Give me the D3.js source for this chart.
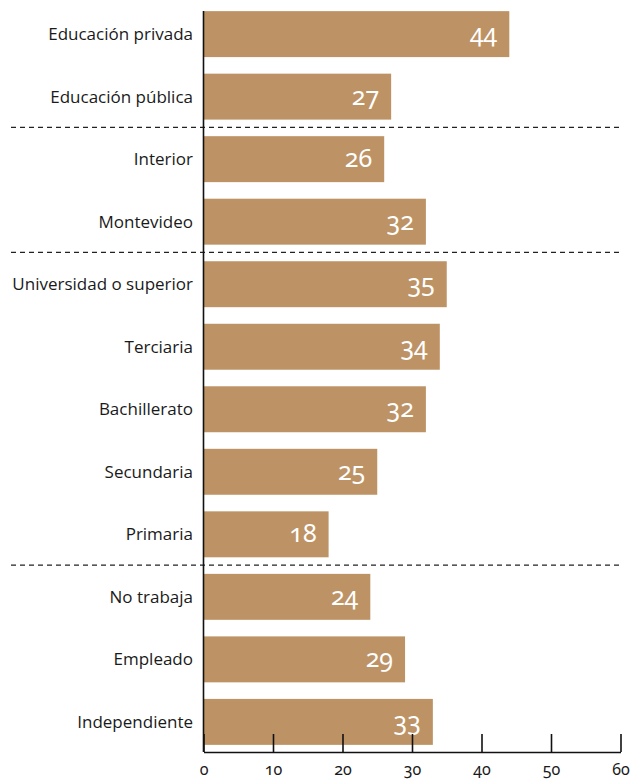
<!DOCTYPE html>
<html>
<head>
<meta charset="utf-8">
<script src="https://cdn.jsdelivr.net/npm/d3@7"></script>
<style>
  html, body { margin: 0; padding: 0; background: #fff; }
  svg { display: block; }
  .cat { font-family: "Open Sans", "Noto Sans", sans-serif; font-size: 17px; fill: #1a1a1a; }
  .val { font-family: "Noto Sans", "Open Sans", sans-serif; font-size: 25px; font-weight: 400; fill: #fff; font-feature-settings: "onum" 1; }
  .tick-label { font-family: "Noto Sans", "Open Sans", sans-serif; font-size: 16px; fill: #1a1a1a; font-feature-settings: "onum" 1; }
</style>
</head>
<body>
<svg id="chart" width="633" height="782"></svg>
<script>
// Share of respondents by group (%)
const categories = [
  "Educación privada", "Educación pública",
  "Interior", "Montevideo",
  "Universidad o superior", "Terciaria", "Bachillerato", "Secundaria", "Primaria",
  "No trabaja", "Empleado", "Independiente"
];
const values = [44, 27, 26, 32, 35, 34, 32, 25, 18, 24, 29, 33];
// Group separators are drawn after these category indices
const groupBreaks = [1, 3, 8];
const tickValues = [0, 10, 20, 30, 40, 50, 60];

const svg = d3.select("#chart");
const barColor = "#bd9366";

const x = d3.scaleLinear().domain([0, 60]).range([203.5, 620.5]);
const y = d3.scaleBand()
  .domain(categories)
  .range([3, 753])
  .paddingInner(0.265)
  .paddingOuter(0.13);

// Bars
svg.append("g").selectAll("rect")
  .data(values)
  .join("rect")
  .attr("x", x(0))
  .attr("y", (d, i) => y(categories[i]))
  .attr("width", d => x(d) - x(0))
  .attr("height", y.bandwidth())
  .attr("fill", barColor);

// Value labels inside bars
svg.append("g").selectAll("text")
  .data(values)
  .join("text")
  .attr("class", "val")
  .attr("x", d => x(d) - 12)
  .attr("y", (d, i) => y(categories[i]) + y.bandwidth() / 2 + 8)
  .attr("text-anchor", "end")
  .text(d => d);

// Category labels
svg.append("g").selectAll("text")
  .data(categories)
  .join("text")
  .attr("class", "cat")
  .attr("x", 193)
  .attr("y", d => y(d) + y.bandwidth() / 2 + 6)
  .attr("text-anchor", "end")
  .text(d => d);

// Dashed separators between groups
svg.append("g").selectAll("line")
  .data(groupBreaks)
  .join("line")
  .attr("x1", 11)
  .attr("x2", 622)
  .attr("y1", i => (y(categories[i]) + y.bandwidth() + y(categories[i + 1])) / 2 - 0.5)
  .attr("y2", i => (y(categories[i]) + y.bandwidth() + y(categories[i + 1])) / 2 - 0.5)
  .attr("stroke", "#222")
  .attr("stroke-width", 1.3)
  .attr("stroke-dasharray", "5,4");

// Vertical baseline
svg.append("line")
  .attr("x1", x(0)).attr("x2", x(0))
  .attr("y1", 11).attr("y2", 752)
  .attr("stroke", "#111")
  .attr("stroke-width", 1.6);

// Bottom axis: ticks point upward, labels below
const axis = d3.axisBottom(x)
  .tickValues(tickValues)
  .tickSize(-18)
  .tickSizeOuter(0)
  .tickPadding(12);

const gx = svg.append("g")
  .attr("transform", "translate(0,752)")
  .call(axis);
gx.select(".domain").attr("stroke", "#111").attr("stroke-width", 1.6);
gx.selectAll(".tick line").attr("stroke", "#111").attr("stroke-width", 1.6);
gx.selectAll(".tick text")
  .attr("class", "tick-label")
  .attr("font-family", null)
  .attr("font-size", null)
  .attr("fill", null);
</script>
</body>
</html>
